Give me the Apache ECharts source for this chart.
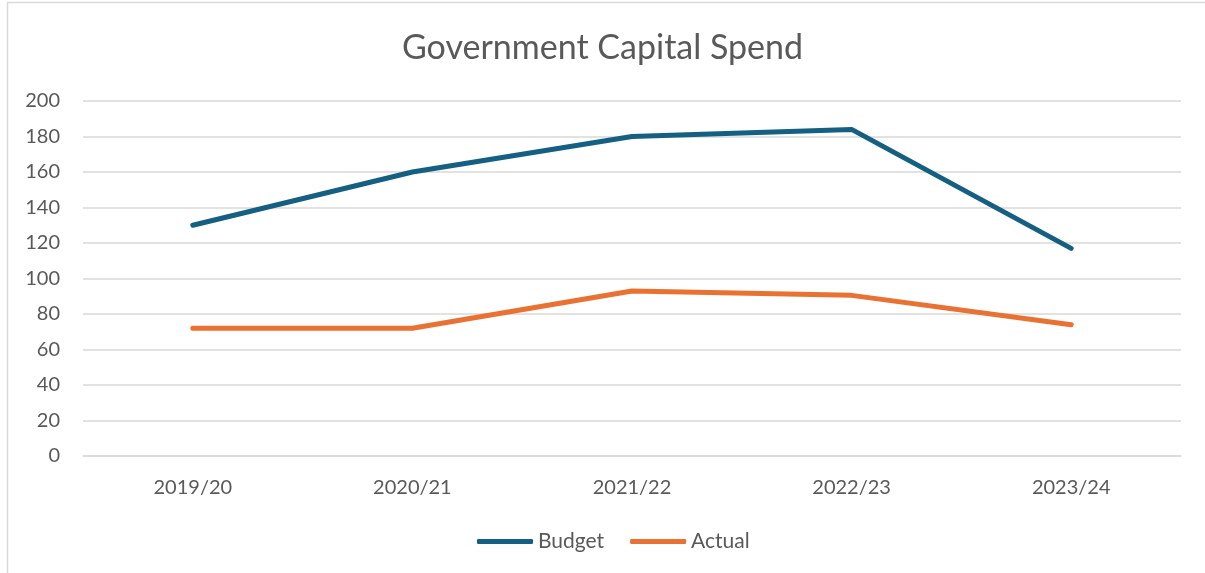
<!DOCTYPE html>
<html><head><meta charset="utf-8">
<script src="https://cdn.jsdelivr.net/npm/echarts@6/dist/echarts.min.js"></script>
<style>html,body{margin:0;padding:0;background:#fff}#c{width:1205px;height:573px}</style>
</head><body><div id="c"></div>
<script>
const categories = ['2019/20','2020/21','2021/22','2022/23','2023/24'];
const budget = [130, 160, 180, 184, 117];
const actual = [72, 72, 93, 90.5, 74];
const yTicks = {min: 0, max: 200, interval: 20};

const chart = echarts.init(document.getElementById('c'), null, {renderer: 'canvas'});
const font = 'Lato, "Open Sans", sans-serif';
chart.setOption({
  animation: false,
  graphic: [{type: 'rect', shape: {x: 7.5, y: 2.5, width: 1210, height: 590}, style: {fill: null, stroke: '#D9D9D9', lineWidth: 1.5}, silent: true}],
  title: {text: 'Government Capital Spend', left: 'center', top: 26, textStyle: {fontFamily: font, fontSize: 34, fontWeight: 'normal', color: '#595959'}},
  grid: {left: 83, right: 24, top: 101, bottom: 117, containLabel: false},
  xAxis: {type: 'category', data: categories, boundaryGap: true,
    axisLine: {show: true, lineStyle: {color: '#D9D9D9', width: 1.5}}, axisTick: {show: false},
    axisLabel: {fontFamily: font, fontSize: 20, color: '#595959', margin: 22}},
  yAxis: {type: 'value', min: yTicks.min, max: yTicks.max, interval: yTicks.interval,
    axisLine: {show: false}, axisTick: {show: false},
    splitLine: {lineStyle: {color: '#D9D9D9', width: 1.5}},
    axisLabel: {fontFamily: font, fontSize: 20, color: '#595959', margin: 23}},
  legend: {bottom: 16, left: 472, itemWidth: 56, itemHeight: 5, itemGap: 26,
    textStyle: {fontFamily: font, fontSize: 21, color: '#595959'},
    data: [{name: 'Budget', icon: 'roundRect'}, {name: 'Actual', icon: 'roundRect'}]},
  series: [
    {name: 'Budget', type: 'line', data: budget, symbol: 'none', color: '#156082', lineStyle: {width: 5, cap: 'round', join: 'round'}},
    {name: 'Actual', type: 'line', data: actual, symbol: 'none', color: '#E97132', lineStyle: {width: 5, cap: 'round', join: 'round'}}
  ]
});
</script></body></html>
